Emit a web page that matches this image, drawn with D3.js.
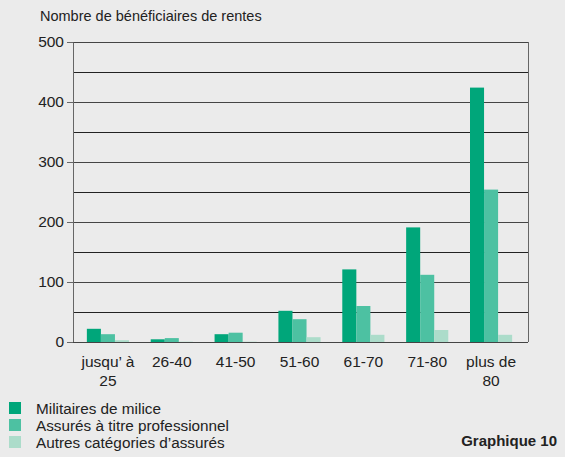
<!DOCTYPE html>
<html>
<head>
<meta charset="utf-8">
<script src="https://cdn.jsdelivr.net/npm/d3@7"></script>
<style>
  body { margin: 0; background: #ebebeb; }
  svg { display: block; font-family: "Liberation Sans", Arial, sans-serif; }
</style>
</head>
<body>
<div id="wrapper"></div>
<script>
const categories = [["jusqu’ à", "25"], ["26-40"], ["41-50"], ["51-60"], ["61-70"], ["71-80"], ["plus de", "80"]]
const seriesNames = ["Militaires de milice", "Assurés à titre professionnel", "Autres catégories d’assurés"]
const militaires = [22, 4.5, 13, 52, 121, 191, 424]
const professionnels = [13, 6.5, 15.5, 38, 60, 112, 254]
const autres = [3, 0.5, 0.5, 8, 12, 20, 12]
const yTicks = [0, 100, 200, 300, 400, 500]
const colors = ["#00a67a", "#4dc1a2", "#acdcca"]

const width = 565
const height = 457
const margin = {top: 42, right: 37, bottom: 115, left: 73}
const boundedWidth = width - margin.left - margin.right
const boundedHeight = height - margin.top - margin.bottom

const svg = d3.select("#wrapper")
    .append("svg")
        .attr("width", width)
        .attr("height", height)

const bounds = svg.append("g")
    .attr("transform", `translate(${margin.left},${margin.top})`)

const series = [militaires, professionnels, autres]
const rows = categories.map((c, i) => ({
    idx: i,
    values: series.map((s, j) => ({j, v: s[i]}))
}))

const xScale = d3.scaleBand()
    .domain(d3.range(categories.length))
    .range([3, boundedWidth - 5])
    .paddingInner(0.34)
    .paddingOuter(0.17)

const subScale = d3.scaleBand()
    .domain(d3.range(series.length))
    .range([0, xScale.bandwidth()])

const yScale = d3.scaleLinear()
    .domain([0, 500])
    .range([boundedHeight, 0])

// gridlines every 50
bounds.append("g")
    .selectAll("line")
    .data(d3.range(50, 501, 50))
    .join("line")
        .attr("x1", 0)
        .attr("x2", boundedWidth)
        .attr("y1", d => Math.round(yScale(d)) + 0.5)
        .attr("y2", d => Math.round(yScale(d)) + 0.5)
        .attr("stroke", d => d % 100 === 0 ? "#444" : "#222")
        .attr("stroke-width", 1)

// right border
bounds.append("line")
    .attr("x1", boundedWidth + 0.5).attr("x2", boundedWidth + 0.5)
    .attr("y1", 0).attr("y2", boundedHeight)
    .attr("stroke", "#666")

// bars
bounds.append("g")
    .selectAll("g")
    .data(rows)
    .join("g")
        .attr("transform", d => `translate(${xScale(d.idx)},0)`)
    .selectAll("rect")
    .data(d => d.values)
    .join("rect")
        .attr("x", d => subScale(d.j))
        .attr("width", subScale.bandwidth())
        .attr("y", d => yScale(d.v))
        .attr("height", d => boundedHeight - yScale(d.v))
        .attr("fill", d => colors[d.j])

// y axis
const yAxis = bounds.append("g")
    .call(d3.axisLeft(yScale).tickValues(yTicks).tickSize(6).tickPadding(3).tickSizeOuter(0))
yAxis.select(".domain").attr("stroke", "#666")
yAxis.selectAll(".tick line").attr("stroke", "#666")
yAxis.selectAll(".tick text")
    .attr("font-size", 15.5)
    .attr("fill", "#222")
    .attr("font-family", "Liberation Sans, Arial, sans-serif")

// x baseline
bounds.append("line")
    .attr("x1", 0).attr("x2", boundedWidth)
    .attr("y1", boundedHeight + 0.5).attr("y2", boundedHeight + 0.5)
    .attr("stroke", "#444")

// x labels
const xLabels = bounds.append("g")
    .selectAll("text")
    .data(categories)
    .join("text")
        .attr("x", (d, i) => xScale(i) + xScale.bandwidth() / 2)
        .attr("y", boundedHeight + 25)
        .attr("text-anchor", "middle")
        .attr("font-size", 15.5)
        .attr("fill", "#222")
xLabels.selectAll("tspan")
    .data(d => d)
    .join("tspan")
        .attr("x", function() { return d3.select(this.parentNode).attr("x") })
        .attr("dy", (d, i) => i === 0 ? 0 : 19)
        .text(d => d)

// title
svg.append("text")
    .attr("x", 40)
    .attr("y", 21)
    .attr("font-size", 14.5)
    .attr("fill", "#222")
    .text("Nombre de bénéficiaires de rentes")

// legend
const legend = svg.append("g")
    .attr("transform", "translate(9,402)")
const legendItems = legend.selectAll("g")
    .data(seriesNames)
    .join("g")
        .attr("transform", (d, i) => `translate(0,${i * 17})`)
legendItems.append("rect")
    .attr("width", 12)
    .attr("height", 12)
    .attr("fill", (d, i) => colors[i])
legendItems.append("text")
    .attr("x", 27)
    .attr("y", 11.5)
    .attr("font-size", 15.3)
    .attr("fill", "#222")
    .text(d => d)

svg.append("text")
    .attr("x", 557)
    .attr("y", 446)
    .attr("text-anchor", "end")
    .attr("font-size", 15)
    .attr("font-weight", "bold")
    .attr("fill", "#222")
    .text("Graphique 10")
</script>
</body>
</html>
